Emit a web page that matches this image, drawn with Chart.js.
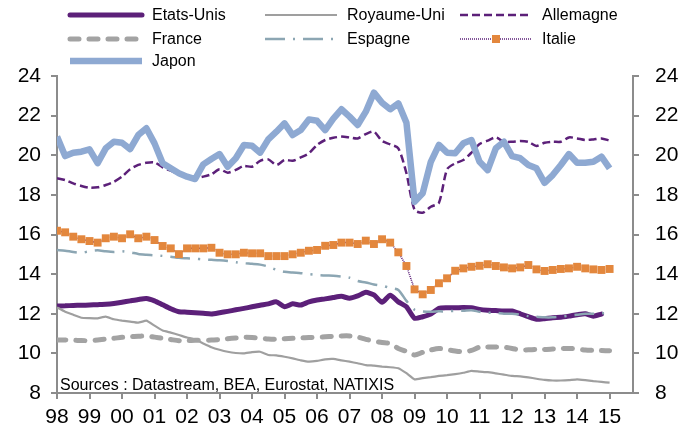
<!DOCTYPE html>
<html>
<head>
<meta charset="utf-8">
<script src="https://cdn.jsdelivr.net/npm/chart.js@4.4.1/dist/chart.umd.min.js"></script>
<style>
html, body { margin: 0; padding: 0; background: #fff; }
</style>
</head>
<body>
<canvas id="chart" width="694" height="432"></canvas>
<script>
// trimestriel, 1998T1 -> 2015T1
var startYear = 1998;
var yearTicks = [1998, 1999, 2000, 2001, 2002, 2003, 2004, 2005, 2006, 2007, 2008, 2009, 2010, 2011, 2012, 2013, 2014, 2015];
var yTicks = [8, 10, 12, 14, 16, 18, 20, 22, 24];
var seriesNames = ['Etats-Unis', 'Royaume-Uni', 'Allemagne', 'France', 'Espagne', 'Italie', 'Japon'];

var etatsUnis = [12.39, 12.40, 12.42, 12.43, 12.44, 12.46, 12.48, 12.52, 12.58, 12.65, 12.72, 12.77,
	12.65, 12.45, 12.25, 12.10, 12.08, 12.05, 12.02, 11.99, 12.05, 12.12, 12.20, 12.27,
	12.35, 12.43, 12.50, 12.60, 12.35, 12.50, 12.44, 12.60, 12.69, 12.75, 12.82, 12.88,
	12.78, 12.90, 13.08, 12.95, 12.58, 12.94, 12.60, 12.35, 11.77, 11.85, 11.98, 12.27,
	12.30, 12.30, 12.32, 12.30, 12.22, 12.18, 12.16, 12.14, 12.14, 12.00, 11.85, 11.72,
	11.75, 11.80, 11.82, 11.88, 11.95, 12.00, 11.88, 11.98, null];
var royaumeUni = [12.32, 12.10, 11.95, 11.80, 11.78, 11.77, 11.85, 11.72, 11.65, 11.60, 11.55, 11.65,
	11.40, 11.15, 11.05, 10.93, 10.80, 10.70, 10.50, 10.31, 10.18, 10.08, 10.02, 10.00,
	10.06, 10.08, 9.92, 9.90, 9.83, 9.75, 9.65, 9.58, 9.62, 9.70, 9.72, 9.65,
	9.58, 9.50, 9.41, 9.38, 9.33, 9.30, 9.25, 9.00, 8.69, 8.75, 8.80, 8.86,
	8.90, 8.95, 9.02, 9.12, 9.08, 9.05, 8.99, 8.93, 8.86, 8.84, 8.79, 8.72,
	8.66, 8.63, 8.63, 8.65, 8.69, 8.65, 8.60, 8.56, 8.52];
var allemagne = [18.84, 18.75, 18.58, 18.45, 18.36, 18.38, 18.50, 18.66, 18.92, 19.29, 19.51, 19.62,
	19.64, 19.39, 19.22, 19.05, 18.92, 18.84, 18.92, 19.04, 19.29, 19.12, 19.26, 19.46,
	19.42, 19.72, 19.79, 19.51, 19.76, 19.72, 19.89, 20.10, 20.52, 20.77, 20.88, 20.94,
	20.90, 20.85, 21.07, 21.19, 20.72, 20.55, 20.35, 19.09, 17.24, 17.10, 17.40, 17.60,
	19.29, 19.59, 19.76, 20.13, 20.57, 20.74, 20.90, 20.68, 20.68, 20.72, 20.68, 20.47,
	20.63, 20.68, 20.68, 20.90, 20.85, 20.77, 20.80, 20.85, 20.74];
var france = [10.67, 10.68, 10.66, 10.65, 10.64, 10.68, 10.72, 10.76, 10.81, 10.84, 10.86, 10.88,
	10.82, 10.76, 10.70, 10.64, 10.64, 10.66, 10.66, 10.67, 10.70, 10.74, 10.78, 10.81,
	10.80, 10.76, 10.72, 10.71, 10.74, 10.76, 10.78, 10.80, 10.81, 10.84, 10.86, 10.88,
	10.88, 10.82, 10.71, 10.62, 10.55, 10.50, 10.25, 10.10, 9.92, 10.05, 10.17, 10.25,
	10.18, 10.12, 10.08, 10.15, 10.31, 10.32, 10.32, 10.31, 10.25, 10.17, 10.18, 10.20,
	10.20, 10.22, 10.24, 10.25, 10.22, 10.17, 10.15, 10.14, 10.13];
var espagne = [15.22, 15.18, 15.12, 15.08, 15.15, 15.20, 15.15, 15.12, 15.15, 15.10, 15.02, 14.98,
	14.95, 14.92, 14.88, 14.82, 14.80, 14.78, 14.74, 14.72, 14.70, 14.66, 14.60, 14.55,
	14.52, 14.48, 14.38, 14.22, 14.12, 14.08, 14.05, 14.00, 13.96, 13.93, 13.92, 13.88,
	13.82, 13.65, 13.58, 13.48, 13.42, 13.30, 13.20, 12.65, 12.20, 12.12, 12.10, 12.12,
	12.12, 12.15, 12.15, 12.18, 12.10, 12.05, 12.05, 12.00, 12.00, 11.95, 11.88, 11.85,
	11.82, 11.82, 11.85, 11.90, 11.95, 12.00, 12.00, 12.02, 12.05];
var italie = [16.19, 16.11, 15.89, 15.76, 15.67, 15.59, 15.81, 15.89, 15.81, 16.01, 15.81, 15.89,
	15.72, 15.42, 15.30, 15.01, 15.30, 15.30, 15.30, 15.33, 15.08, 15.00, 15.00, 15.08,
	15.05, 15.05, 14.91, 14.91, 14.91, 15.00, 15.08, 15.18, 15.22, 15.43, 15.47, 15.59,
	15.59, 15.52, 15.69, 15.52, 15.76, 15.59, 15.10, 14.41, 13.23, 12.98, 13.20, 13.54,
	13.79, 14.17, 14.29, 14.37, 14.42, 14.50, 14.41, 14.34, 14.29, 14.34, 14.46, 14.24,
	14.16, 14.21, 14.26, 14.29, 14.37, 14.29, 14.24, 14.21, 14.26];
var japon = [20.94, 19.96, 20.13, 20.18, 20.30, 19.60, 20.35, 20.68, 20.63, 20.31, 21.02, 21.36,
	20.60, 19.60, 19.34, 19.09, 18.92, 18.80, 19.54, 19.81, 20.06, 19.42, 19.85, 20.52,
	20.48, 20.13, 20.80, 21.19, 21.61, 21.02, 21.27, 21.81, 21.74, 21.27, 21.85, 22.32,
	21.95, 21.53, 22.20, 23.16, 22.65, 22.32, 22.62, 21.64, 17.65, 18.08, 19.67, 20.52,
	20.13, 20.10, 20.60, 20.77, 19.67, 19.25, 20.35, 20.68, 19.96, 19.85, 19.51, 19.34,
	18.61, 19.00, 19.51, 20.06, 19.62, 19.62, 19.67, 19.93, 19.34];

var sourceText = 'Sources : Datastream, BEA, Eurostat, NATIXIS';
var fontName = "'Liberation Sans', Arial, sans-serif";
var axisColor = '#8c8c8c';

function toPoints(values) {
	return values.map(function (v, i) {
		return { x: startYear + i / 4, y: v };
	});
}

// legende dessinee a la main (3 colonnes comme sur Excel)
var legendPlugin = {
	id: 'legendMain',
	afterDraw: function (chart) {
		var ctx = chart.ctx;
		var cols = [70, 265, 460];
		var rows = [15, 39, 61];
		chart.data.datasets.forEach(function (ds, i) {
			var x = cols[i % 3];
			var y = rows[Math.floor(i / 3)];
			ctx.save();
			ctx.strokeStyle = ds.borderColor;
			ctx.lineWidth = ds.borderWidth;
			ctx.lineCap = ds.borderCapStyle || 'butt';
			ctx.setLineDash(ds.borderDash || []);
			ctx.beginPath();
			ctx.moveTo(x, y);
			ctx.lineTo(x + 72, y);
			ctx.stroke();
			if (ds.pointRadius > 0) {
				ctx.setLineDash([]);
				ctx.fillStyle = ds.pointBackgroundColor;
				ctx.fillRect(x + 32, y - 4, 8, 8);
			}
			ctx.fillStyle = '#000';
			ctx.font = '16px ' + fontName;
			ctx.textBaseline = 'middle';
			ctx.fillText(ds.label, x + 82, y + 1);
			ctx.restore();
		});
	}
};

var sourcePlugin = {
	id: 'sourceText',
	afterDraw: function (chart) {
		var ctx = chart.ctx;
		ctx.save();
		ctx.fillStyle = '#000';
		ctx.font = '16px ' + fontName;
		ctx.textBaseline = 'alphabetic';
		ctx.fillText(sourceText, 60, 390);
		ctx.restore();
	}
};

var baseLine = { pointRadius: 0, pointHoverRadius: 0, fill: false, spanGaps: false };

var datasets = [
	Object.assign({}, baseLine, { label: seriesNames[0], data: toPoints(etatsUnis), borderColor: '#5c2079', borderWidth: 5, tension: 0.2, borderCapStyle: 'round', order: 7 }),
	Object.assign({}, baseLine, { label: seriesNames[1], data: toPoints(royaumeUni), borderColor: '#9f9f9f', borderWidth: 2.2, tension: 0.1, order: 6 }),
	Object.assign({}, baseLine, { label: seriesNames[2], data: toPoints(allemagne), borderColor: '#5c2079', borderWidth: 2.5, borderDash: [8, 4], tension: 0.25, order: 5 }),
	Object.assign({}, baseLine, { label: seriesNames[3], data: toPoints(france), borderColor: '#a3a3a3', borderWidth: 5, borderDash: [9, 10], borderCapStyle: 'round', tension: 0.25, order: 4 }),
	Object.assign({}, baseLine, { label: seriesNames[4], data: toPoints(espagne), borderColor: '#8ca6b3', borderWidth: 2.5, borderDash: [20, 8, 2, 8], tension: 0.25, order: 3 }),
	Object.assign({}, baseLine, { label: seriesNames[5], data: toPoints(italie), borderColor: '#5c2079', borderWidth: 1.5, borderDash: [1, 1], pointStyle: 'rect', pointRadius: 5.6, pointBackgroundColor: '#e3873d', pointBorderColor: '#e3873d', pointBorderWidth: 0, tension: 0, order: 2 }),
	Object.assign({}, baseLine, { label: seriesNames[6], data: toPoints(japon), borderColor: '#8ea9d2', borderWidth: 6.5, tension: 0, borderJoinStyle: 'round', order: 1 })
];

var tickFont = { family: fontName, size: 21 };

function yAxis(pos, w) {
	return {
		type: 'linear',
		position: pos,
		min: 8,
		max: 24,
		afterBuildTicks: function (scale) {
			scale.ticks = yTicks.map(function (v) { return { value: v }; });
		},
		afterFit: function (scale) { scale.width = w; },
		ticks: { font: tickFont, color: '#000', padding: pos === 'left' ? 10 : 16 },
		grid: { drawOnChartArea: false, drawTicks: true, tickLength: 6, color: axisColor, lineWidth: 2 },
		border: { color: axisColor, width: 2 }
	};
}

new Chart(document.getElementById('chart'), {
	type: 'line',
	data: { datasets: datasets },
	options: {
		responsive: false,
		animation: false,
		devicePixelRatio: 1,
		layout: { padding: { top: 76, left: 0, right: 0, bottom: 0 } },
		plugins: { legend: { display: false }, tooltip: { enabled: false } },
		scales: {
			x: {
				type: 'linear',
				min: 1998,
				max: 2015.72,
				afterBuildTicks: function (scale) {
					scale.ticks = yearTicks.map(function (v) { return { value: v }; });
				},
				afterFit: function (scale) { scale.height = 39; },
				ticks: {
					font: tickFont,
					color: '#000',
					padding: 6,
					maxRotation: 0,
					autoSkip: false,
					callback: function (v) { return ('0' + (v % 100)).slice(-2); }
				},
				grid: { drawOnChartArea: false, drawTicks: true, tickLength: 6, color: axisColor, lineWidth: 2 },
				border: { color: axisColor, width: 2 }
			},
			y: yAxis('left', 57),
			y2: yAxis('right', 61)
		}
	},
	plugins: [legendPlugin, sourcePlugin]
});
</script>
</body>
</html>
